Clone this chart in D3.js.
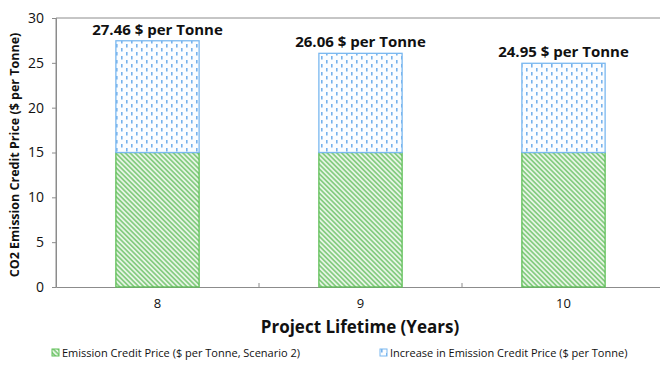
<!DOCTYPE html>
<html>
<head>
<meta charset="utf-8">
<script src="https://cdn.jsdelivr.net/npm/d3@7"></script>
<style>
  html, body { margin: 0; padding: 0; background: #fff; }
  svg { display: block; }
  text { font-family: "Open Sans", "Noto Sans", sans-serif; fill: #111; }
</style>
</head>
<body>
<svg id="chart" width="660" height="374"></svg>
<script>
// Project lifetime categories (years)
const lifetimes = ["8", "9", "10"];
// Base emission credit price, Scenario 2 ($ per tonne)
const basePrice = [15, 15, 15];
// Total emission credit price ($ per tonne) stated above each bar
const totalPrice = [27.46, 26.06, 24.95];
// Increase over the base price
const increase = totalPrice.map((t, i) => +(t - basePrice[i]).toFixed(2));
const yTicks = [0, 5, 10, 15, 20, 25, 30];
const legendLabels = [
  "Emission Credit Price ($ per Tonne, Scenario 2)",
  "Increase in Emission Credit Price ($ per Tonne)"
];

const svg = d3.select("#chart");
const margin = { left: 56, top: 18, right: -5, bottom: 87 };
const W = 660, H = 374;
const x0 = margin.left, x1 = W - margin.right;
const y0 = H - margin.bottom, y1 = margin.top;

const x = d3.scaleBand().domain(lifetimes).range([x0, x1]).paddingInner(0.59).paddingOuter(0.295);
const xCat = d3.scaleBand().domain(lifetimes).range([x0, x1]);
const y = d3.scaleLinear().domain([0, 30]).range([y0, y1]);

// Fill patterns
const defs = svg.append("defs");
const green = defs.append("pattern").attr("id", "hatchGreen")
  .attr("patternUnits", "userSpaceOnUse").attr("width", 3.4).attr("height", 3.4)
  .attr("patternTransform", "rotate(-45)");
green.append("rect").attr("width", 3.4).attr("height", 3.4).attr("fill", "#e6f5e4");
green.append("rect").attr("width", 1.7).attr("height", 3.4).attr("fill", "#86cc82");

const blue = defs.append("pattern").attr("id", "dashBlue")
  .attr("patternUnits", "userSpaceOnUse").attr("width", 10).attr("height", 8);
blue.append("rect").attr("width", 10).attr("height", 8).attr("fill", "#fbfdff");
blue.append("rect").attr("x", 1).attr("y", 0).attr("width", 1.6).attr("height", 3.5).attr("fill", "#76b2ec");
blue.append("rect").attr("x", 6).attr("y", 4).attr("width", 1.6).attr("height", 3.5).attr("fill", "#76b2ec");

// Plot frame
svg.append("path")
  .attr("d", `M${x0},${y0}V${y1}H${x1}V${y0}`)
  .attr("fill", "none").attr("stroke", "#8c8c8c").attr("stroke-width", 1);

// Y axis
const yAxis = svg.append("g").attr("transform", `translate(${x0},0)`)
  .call(d3.axisLeft(y).tickValues(yTicks).tickSize(4).tickPadding(8));
yAxis.select(".domain").attr("stroke", "#8c8c8c");
yAxis.selectAll(".tick line").attr("stroke", "#8c8c8c");
yAxis.selectAll(".tick text").style("font-size", "14px").attr("fill", "#111");

// X axis with ticks between categories, pointing up
const xAxis = svg.append("g").attr("transform", `translate(0,${y0})`)
  .call(d3.axisBottom(xCat).tickSize(0).tickPadding(12));
xAxis.select(".domain").attr("stroke", "#8c8c8c");
xAxis.selectAll(".tick text").style("font-size", "13px").attr("fill", "#111");
svg.append("g").selectAll("line").data(lifetimes.slice(1)).join("line")
  .attr("x1", d => xCat(d)).attr("x2", d => xCat(d))
  .attr("y1", y0).attr("y2", y0 - 4)
  .attr("stroke", "#8c8c8c");

// Stacked bars
svg.append("g").selectAll("rect").data(lifetimes).join("rect")
  .attr("x", d => x(d)).attr("width", x.bandwidth())
  .attr("y", (d, i) => y(basePrice[i])).attr("height", (d, i) => y(0) - y(basePrice[i]))
  .attr("fill", "url(#hatchGreen)").attr("stroke", "#5fbf57").attr("stroke-width", 1.3);
svg.append("g").selectAll("rect").data(lifetimes).join("rect")
  .attr("x", d => x(d)).attr("width", x.bandwidth())
  .attr("y", (d, i) => y(basePrice[i] + increase[i])).attr("height", (d, i) => y(basePrice[i]) - y(basePrice[i] + increase[i]))
  .attr("fill", "url(#dashBlue)").attr("stroke", "#7ab8f0").attr("stroke-width", 1.3);

// Total labels
svg.append("g").selectAll("text").data(lifetimes).join("text")
  .attr("x", d => x(d) + x.bandwidth() / 2)
  .attr("y", (d, i) => y(totalPrice[i]) - 6)
  .attr("text-anchor", "middle")
  .style("font-size", "15px").style("font-weight", "bold")
  .text((d, i) => `${totalPrice[i].toFixed(2)} $ per Tonne`);

// Axis titles
svg.append("text").attr("x", 360).attr("y", 333).attr("text-anchor", "middle")
  .style("font-size", "17px").style("font-weight", "bold")
  .text("Project Lifetime (Years)");
svg.append("text").attr("transform", "translate(19,155) rotate(-90)").attr("text-anchor", "middle")
  .style("font-size", "12.5px").style("font-weight", "bold")
  .text("CO2 Emission Credit Price ($ per Tonne)");

// Legend
const legendItems = [
  { label: legendLabels[0], fill: "url(#hatchGreen)", stroke: "#5fbf57", x: 52 },
  { label: legendLabels[1], fill: "url(#dashBlue)", stroke: "#7ab8f0", x: 380 }
];
const lg = svg.append("g").selectAll("g").data(legendItems).join("g")
  .attr("transform", d => `translate(${d.x},349)`);
lg.append("rect").attr("width", 7).attr("height", 7)
  .attr("fill", d => d.fill).attr("stroke", d => d.stroke);
lg.append("text").attr("x", 10).attr("y", 7.5)
  .style("font-size", "11px").text(d => d.label);
</script>
</body>
</html>
